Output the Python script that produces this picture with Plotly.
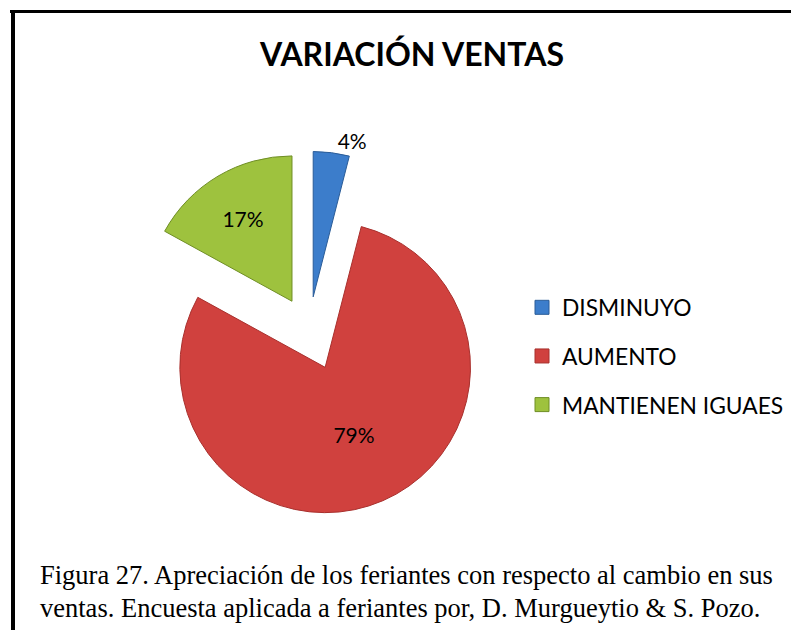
import plotly.graph_objects as go

categories = ["DISMINUYO", "AUMENTO", "MANTIENEN IGUAES"]
values = [4, 79, 17]
colors = ["#3C7DCB", "#D0413E", "#9EC23E"]
line_colors = ["#2A5C98", "#A8302D", "#6F8E25"]
title_text = "VARIACIÓN VENTAS"
caption_lines = [
    "Figura 27. Apreciación de los feriantes con respecto al cambio en sus",
    "ventas. Encuesta aplicada a feriantes por, D. Murgueytio &amp; S. Pozo.",
]

# page has an 8px body margin; work in window pixel coordinates
OFF = 8
W, H = 799 - OFF, 630 - OFF


def px(x):
    return (x - OFF) / W


def py(y):
    return 1 - (y - OFF) / H


fig = go.Figure()

fig.add_trace(go.Pie(
    labels=categories,
    values=values,
    sort=False,
    direction="clockwise",
    rotation=0,
    pull=[0.23, 0.28, 0.23],
    marker=dict(colors=colors, line=dict(color=line_colors, width=1)),
    texttemplate="%{percent:.0%}",
    textposition=["outside", "inside", "inside"],
    insidetextorientation="horizontal",
    textfont=dict(family="Lato", size=21, color="black"),
    showlegend=False,
    hoverinfo="label+percent",
    domain=dict(x=[px(123), px(495)], y=[py(516), py(144)]),
))

for cat, col, lc in zip(categories, colors, line_colors):
    fig.add_trace(go.Scatter(
        x=[None], y=[None], mode="markers", name=cat,
        legendgroup=cat,
        marker=dict(symbol="square", size=14, color=col, line=dict(color=lc, width=1)),
        showlegend=True, hoverinfo="skip",
    ))

fig.update_layout(
    width=W, height=H,
    margin=dict(l=0, r=0, t=0, b=0),
    paper_bgcolor="white",
    plot_bgcolor="white",
    xaxis=dict(visible=False),
    yaxis=dict(visible=False),
    title=dict(
        text="<b>" + title_text + "</b>",
        font=dict(family="Lato", size=32, color="black"),
        x=px(412), xanchor="center", y=py(55), yanchor="middle",
    ),
    legend=dict(
        x=px(522), y=py(286), xanchor="left", yanchor="top",
        font=dict(family="Lato", size=22.8, color="black"),
        traceorder="grouped", tracegroupgap=16,
        bgcolor="rgba(0,0,0,0)",
        itemclick=False, itemdoubleclick=False,
    ),
    shapes=[
        dict(type="line", xref="paper", yref="paper",
             x0=px(10), x1=1, y0=py(11.5), y1=py(11.5),
             line=dict(color="black", width=3)),
        dict(type="line", xref="paper", yref="paper",
             x0=px(13), x1=px(13), y0=py(10), y1=0,
             line=dict(color="black", width=4)),
    ],
    annotations=[
        dict(text=caption_lines[0], xref="paper", yref="paper",
             x=px(38), y=py(575), xanchor="left", yanchor="middle",
             showarrow=False,
             font=dict(family="Liberation Serif", size=26.5, color="black")),
        dict(text=caption_lines[1], xref="paper", yref="paper",
             x=px(38), y=py(608), xanchor="left", yanchor="middle",
             showarrow=False,
             font=dict(family="Liberation Serif", size=26.5, color="black")),
    ],
)

fig.write_html("out.html")
